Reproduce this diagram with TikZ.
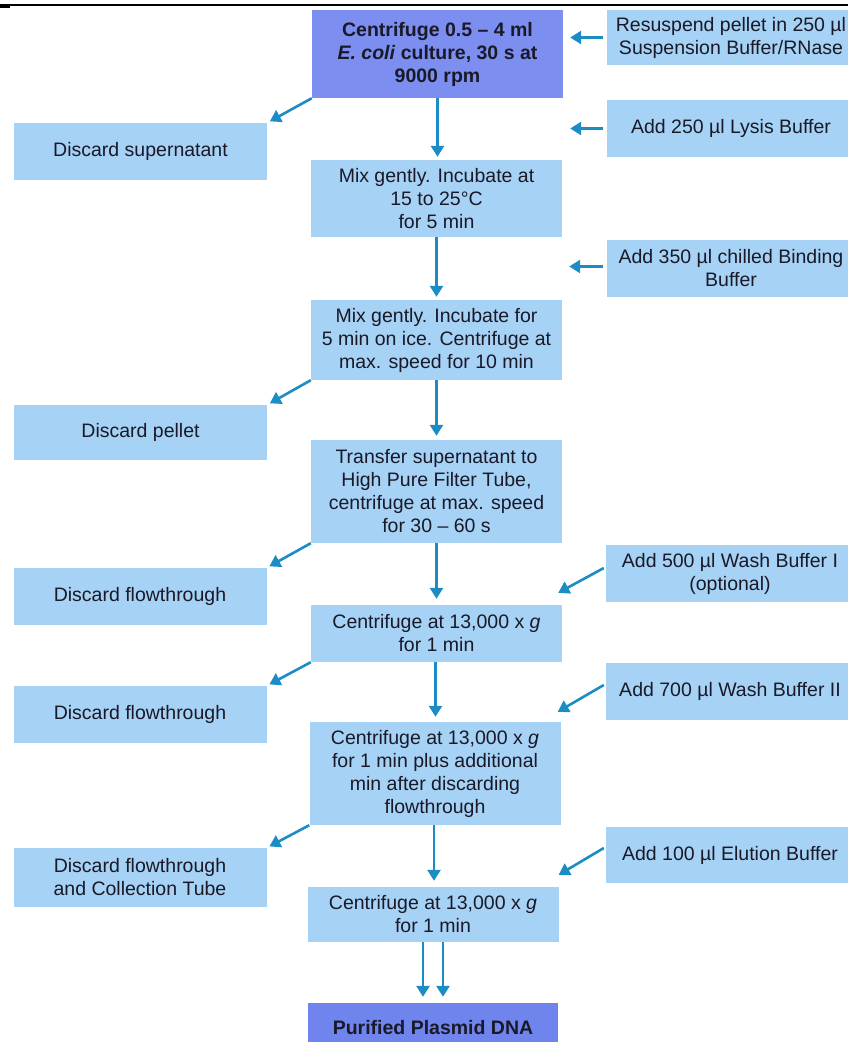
\documentclass[tikz,border=0pt]{standalone}
\usepackage{fontspec}
\setmainfont{Liberation Sans}
\usetikzlibrary{arrows.meta,calc}
\definecolor{lightbox}{RGB}{166,210,245}
\definecolor{darkbox}{RGB}{124,142,240}
\definecolor{finalbox}{RGB}{112,132,238}
\definecolor{arrowc}{RGB}{28,140,196}
\definecolor{txt}{RGB}{25,25,40}
\begin{document}
\begin{tikzpicture}[x=1pt,y=-1pt,
  box/.style={fill=lightbox, draw=none, inner sep=0pt, align=center,
    font=\fontsize{19.5}{23}\selectfont, text=txt},
  dbox/.style={box, fill=darkbox, font=\fontsize{19.5}{23}\selectfont\bfseries},
  cbox/.style={box, minimum width=251pt},
  lbox/.style={box, minimum width=253pt},
  rbox/.style={box, minimum width=248pt},
  arr/.style={draw=arrowc, line width=2.6pt, -{Triangle[length=11pt,width=13pt]}}]
\useasboundingbox (0,0) rectangle (848,1042);
% top rule
\draw[line width=1.2pt] (0,5) -- (848,5);
\fill (0,3.5) rectangle (10,7.5);
% centre column
\node[dbox, minimum width=251pt, minimum height=88pt] (top) at (437.5,54)
  {Centrifuge 0.5 – 4 ml\\\textit{E. coli} culture, 30 s at\\9000 rpm};
\node[cbox, minimum height=77pt] (b2) at (436.5,198.5)
  {Mix gently. Incubate at\\15 to 25°C\\for 5 min};
\node[cbox, minimum height=80pt] (b3) at (436.5,340)
  {Mix gently. Incubate for\\5 min on ice. Centrifuge at\\max. speed for 10 min};
\node[cbox, minimum height=103pt] (b4) at (436.5,491.5)
  {Transfer supernatant to\\High Pure Filter Tube,\\centrifuge at max. speed\\for 30 – 60 s};
\node[cbox, minimum height=57pt] (b5) at (436.5,633.5)
  {Centrifuge at 13,000 x \textit{g}\\for 1 min};
\node[cbox, minimum height=103pt] (b6) at (435,773.5)
  {Centrifuge at 13,000 x \textit{g}\\for 1 min plus additional\\min after discarding\\flowthrough};
\node[cbox, minimum height=55pt] (b7) at (433,914.5)
  {Centrifuge at 13,000 x \textit{g}\\for 1 min};
\node[dbox, fill=finalbox, minimum width=250pt, minimum height=50pt] (fin) at (433,1028)
  {Purified Plasmid DNA};
% right column
\node[rbox, minimum height=55pt] (r1) at (731,37.5)
  {Resuspend pellet in 250 µl\\Suspension Buffer/RNase};
\node[rbox, minimum height=57pt] (r2) at (731,128.5) {Add 250 µl Lysis Buffer};
\node[rbox, minimum height=57pt] (r3) at (731,268.5)
  {Add 350 µl chilled Binding\\Buffer};
\node[rbox, minimum height=57pt] (r4) at (730,573.5)
  {Add 500 µl Wash Buffer I\\(optional)};
\node[rbox, minimum height=57pt] (r5) at (730,691.5) {Add 700 µl Wash Buffer II};
\node[rbox, minimum height=56pt] (r6) at (730,855) {Add 100 µl Elution Buffer};
% left column
\node[lbox, minimum height=57pt] (l1) at (140.5,151.5) {Discard supernatant};
\node[lbox, minimum height=55pt] (l2) at (140.5,432.5) {Discard pellet};
\node[lbox, minimum height=57pt] (l3) at (140,596.5) {Discard flowthrough};
\node[lbox, minimum height=57pt] (l4) at (140,714.5) {Discard flowthrough};
\node[lbox, minimum height=59pt] (l5) at (140,877.5)
  {Discard flowthrough\\and Collection Tube};
% vertical arrows
\draw[arr, shorten >=3pt] (top.south) -- (top.south |- b2.north);
\draw[arr, shorten >=3pt] (b2.south) -- (b2.south |- b3.north);
\draw[arr, shorten >=4pt] (b3.south) -- (b3.south |- b4.north);
\draw[arr, shorten >=6pt] (b4.south) -- (b4.south |- b5.north);
\draw[arr, shorten >=5pt] ($(b5.south)+(-1,0)$) -- ($(b5.south |- b6.north)+(-1,0)$);
\draw[arr, shorten >=6pt] ($(b6.south)+(-1,0)$) -- ($(b6.south |- b7.north)+(-1,0)$);
\draw[arr, shorten >=6pt] ($(b7.south)+(-10,0)$) -- ($(fin.north)+(-10,0)$);
\draw[arr, shorten >=6pt] ($(b7.south)+(10,0)$) -- ($(fin.north)+(10,0)$);
% right-to-centre arrows
\draw[arr] ($(r1.west)+(-4,0)$) -- ($(top.east |- r1.west)+(7,0)$);
\draw[arr] ($(r2.west)+(-4,0)$) -- ($(top.east |- r2.west)+(7,0)$);
\draw[arr] ($(r3.west)+(-4,-2)$) -- ($(b2.east |- r3.west)+(7,-2)$);
\draw[arr] ($(r4.west)+(-2,-5.5)$) -- ($(b5.north east)+(-4,-12)$);
\draw[arr] ($(r5.west)+(-2,-6.5)$) -- ($(b6.north east)+(-3,-10)$);
\draw[arr] ($(r6.west)+(-2,-7)$) -- ($(b7.north east)+(0,-12)$);
% centre-to-left arrows
\draw[arr, shorten >=3pt] (top.south west) -- (l1.north east);
\draw[arr, shorten >=3pt] (b3.south west) -- (l2.north east);
\draw[arr, shorten >=3pt] (b4.south west) -- (l3.north east);
\draw[arr, shorten >=3pt] (b5.south west) -- (l4.north east);
\draw[arr, shorten >=3pt] (b6.south west) -- (l5.north east);
\end{tikzpicture}
\end{document}
